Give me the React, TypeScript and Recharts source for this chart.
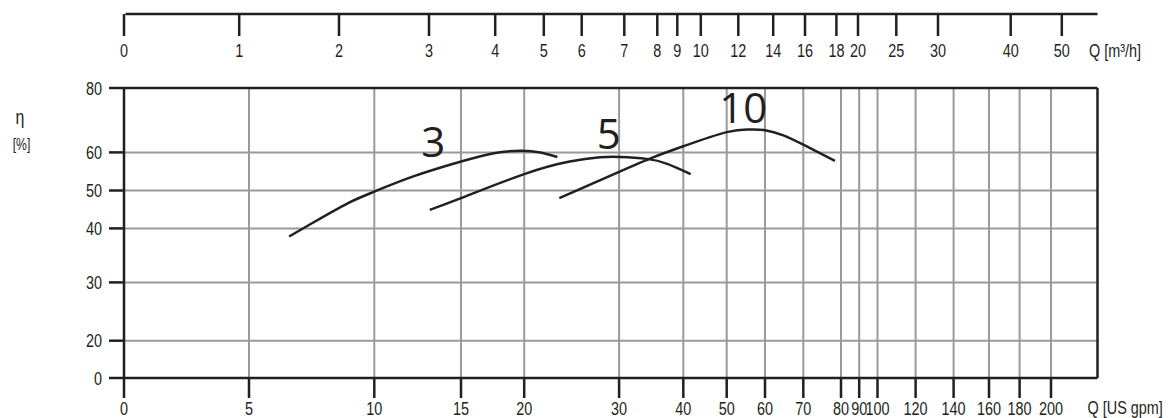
import React from 'react';
import { LineChart, Line, XAxis, YAxis, CartesianGrid, ReferenceLine, ReferenceDot } from 'recharts';

// tick labels of the three printed scales
const GPM_TICKS = [0, 5, 10, 15, 20, 30, 40, 50, 60, 70, 80, 90, 100, 120, 140, 160, 180, 200];
const M3H_TICKS = [0, 1, 2, 3, 4, 5, 6, 7, 8, 9, 10, 12, 14, 16, 18, 20, 25, 30, 40, 50];
const ETA_TICKS = [0, 20, 30, 40, 50, 60, 80];

// efficiency curves, Q in US gpm, eta in %
const CURVE_3_Q = [6.6, 7.6, 8.9, 10, 12.25, 15, 17.6, 19.7, 21.7, 23.5];
const CURVE_3_ETA = [38.5, 41.7, 46.5, 49.7, 53.7, 57.6, 59.8, 60.5, 60.0, 58.8];

const CURVE_5_Q = [13.2, 15, 20, 24.8, 28, 30.1, 34.3, 37.5, 41.7];
const CURVE_5_ETA = [44.9, 48.0, 54.3, 57.6, 58.7, 58.8, 58.3, 57.0, 54.3];

const CURVE_10_Q = [23.7, 30, 35.3, 40, 50, 56.1, 60, 64.8, 70, 78.4];
const CURVE_10_ETA = [48.0, 54.9, 58.7, 61.9, 66.3, 67.1, 66.9, 65.3, 62.4, 57.8];

const CURVE_NAMES = ['3', '5', '10'];
const NAME_Q = [13.4, 28.9, 54.3];
const NAME_ETA = [58.9, 61.1, 69.1];

// the sheet's scales are not linear: every tick is pinned to its place on the
// frame (px from the left / bottom edge) and values are mapped between them
const GPM_STOPS = [0, 125, 250.3, 337, 400.2, 495.1, 559.3, 602.7, 641, 679.3, 717, 735.2, 753.5, 791.6, 829.6, 865, 895.6, 927];
const M3H_STOPS = [0, 115.2, 215, 305, 371.2, 419.8, 457.7, 500.3, 533.3, 553.3, 576.8, 614.3, 649.2, 681, 712.4, 734, 772.3, 814, 886.7, 937.8];
const ETA_STOPS = [0, 37.3, 95.6, 149.6, 187.5, 225.6, 290];
const X_END = 973.5;
const Y_END = 290;

const INK = '#231f20';
const GRID = '#9a9a9a';
const AXIS_FONT = "'Liberation Sans', Arial, sans-serif";
const NAME_FONT = "'Open Sans', 'Noto Sans', sans-serif";
const FONT_SIZE = 19;
const SQUEEZE = 0.76; // the sheet uses a condensed face
const TOP_SCALE_Y = 14;

const interp = (v: number, from: number[], to: number[]) => {
  for (let i = 1; i < from.length; i++) {
    if (v <= from[i] || i === from.length - 1) {
      const t = (v - from[i - 1]) / (from[i] - from[i - 1]);
      return to[i - 1] + t * (to[i] - to[i - 1]);
    }
  }
  return to[0];
};

const labelAt = (v: number, stops: number[], labels: number[]) => {
  const i = stops.findIndex((s) => Math.abs(s - v) < 0.01);
  return i >= 0 ? String(labels[i]) : '';
};

const toPoints = (q: number[], eta: number[]) =>
  q.map((v, i) => ({ x: interp(v, GPM_TICKS, GPM_STOPS), y: interp(eta[i], ETA_TICKS, ETA_STOPS) }));

const curves = [
  toPoints(CURVE_3_Q, CURVE_3_ETA),
  toPoints(CURVE_5_Q, CURVE_5_ETA),
  toPoints(CURVE_10_Q, CURVE_10_ETA),
];

const NarrowText = ({ x, y, anchor = 'start', size = FONT_SIZE, children }: any) => (
  <text
    transform={`translate(${x},${y}) scale(${SQUEEZE},1)`}
    textAnchor={anchor}
    fontFamily={AXIS_FONT}
    fontSize={size}
    fill={INK}
  >
    {children}
  </text>
);

const TopTick = ({ x, payload }: any) => (
  <g>
    <line x1={x} x2={x} y1={TOP_SCALE_Y} y2={TOP_SCALE_Y + 22} stroke={INK} strokeWidth={2.5} />
    <NarrowText x={x} y={TOP_SCALE_Y + 42.5} anchor="middle">
      {labelAt(payload.value, M3H_STOPS, M3H_TICKS)}
    </NarrowText>
  </g>
);

const BottomTick = ({ x, y, payload }: any) => (
  <NarrowText x={x} y={y + 11.5} anchor="middle">
    {labelAt(payload.value, GPM_STOPS, GPM_TICKS)}
  </NarrowText>
);

const EtaTick = ({ x, y, payload }: any) => (
  <NarrowText x={x} y={y + 6.5} anchor="end">
    {labelAt(payload.value, ETA_STOPS, ETA_TICKS)}
  </NarrowText>
);

// upper m³/h scale line plus the unit captions of both Q scales
const SheetCaptions = ({ viewBox }: any) => {
  const { x, width } = viewBox;
  return (
    <g>
      <line x1={x + 1.5} x2={x + width} y1={TOP_SCALE_Y} y2={TOP_SCALE_Y} stroke={INK} strokeWidth={2.5} />
      <NarrowText x={1089} y={TOP_SCALE_Y + 42.5}>Q [m³/h]</NarrowText>
      <NarrowText x={1087.5} y={414}>Q [US gpm]</NarrowText>
    </g>
  );
};

const EtaCaption = () => (
  <g>
    <NarrowText x={20} y={124} anchor="middle" size={21}>η</NarrowText>
    <NarrowText x={21.5} y={150} anchor="middle" size={16}>[%]</NarrowText>
  </g>
);

export default function App() {
  return (
    <div style={{ position: 'absolute', left: 0, top: 0, background: '#fff' }}>
      <LineChart width={1174} height={418} margin={{ top: 0, right: 76.5, bottom: 0, left: 0 }}>
        <CartesianGrid
          xAxisId="gpm"
          stroke={GRID}
          strokeWidth={2}
          verticalValues={GPM_STOPS.slice(1)}
          horizontalValues={ETA_STOPS.slice(1, -1)}
        />
        <XAxis
          xAxisId="m3h"
          orientation="top"
          dataKey="x"
          type="number"
          domain={[0, X_END]}
          ticks={M3H_STOPS}
          interval={0}
          height={88}
          tickLine={false}
          axisLine={{ stroke: INK, strokeWidth: 2.5 }}
          tick={<TopTick />}
          label={<SheetCaptions />}
        />
        <XAxis
          xAxisId="gpm"
          dataKey="x"
          type="number"
          domain={[0, X_END]}
          ticks={GPM_STOPS}
          interval={0}
          height={40}
          tickSize={20}
          tickMargin={5}
          tickLine={{ stroke: INK, strokeWidth: 2.5 }}
          axisLine={{ stroke: INK, strokeWidth: 2.5 }}
          tick={<BottomTick />}
        />
        <YAxis
          type="number"
          domain={[0, Y_END]}
          ticks={ETA_STOPS}
          interval={0}
          width={124}
          tickSize={15}
          tickMargin={7}
          tickLine={{ stroke: INK, strokeWidth: 2.5 }}
          axisLine={{ stroke: INK, strokeWidth: 2.5 }}
          tick={<EtaTick />}
          label={<EtaCaption />}
        />
        <ReferenceLine xAxisId="gpm" x={X_END} stroke={INK} strokeWidth={2.5} />
        {/* carries the m³/h scale so its ticks get laid out; draws nothing */}
        <Line
          xAxisId="m3h"
          data={M3H_STOPS.map((s) => ({ x: s }))}
          dataKey="y"
          stroke="none"
          dot={false}
          activeDot={false}
          legendType="none"
          isAnimationActive={false}
        />
        {curves.map((pts, i) => (
          <Line
            key={CURVE_NAMES[i]}
            xAxisId="gpm"
            data={pts}
            dataKey="y"
            type="natural"
            stroke={INK}
            strokeWidth={2.5}
            dot={false}
            activeDot={false}
            isAnimationActive={false}
          />
        ))}
        {CURVE_NAMES.map((name, i) => (
          <ReferenceDot
            key={`name-${name}`}
            xAxisId="gpm"
            x={interp(NAME_Q[i], GPM_TICKS, GPM_STOPS)}
            y={interp(NAME_ETA[i], ETA_TICKS, ETA_STOPS)}
            r={0}
            shape={(p: any) => (
              <text x={p.cx} y={p.cy} textAnchor="middle" fontFamily={NAME_FONT} fontSize={42} fill={INK}>
                {name}
              </text>
            )}
          />
        ))}
      </LineChart>
    </div>
  );
}
